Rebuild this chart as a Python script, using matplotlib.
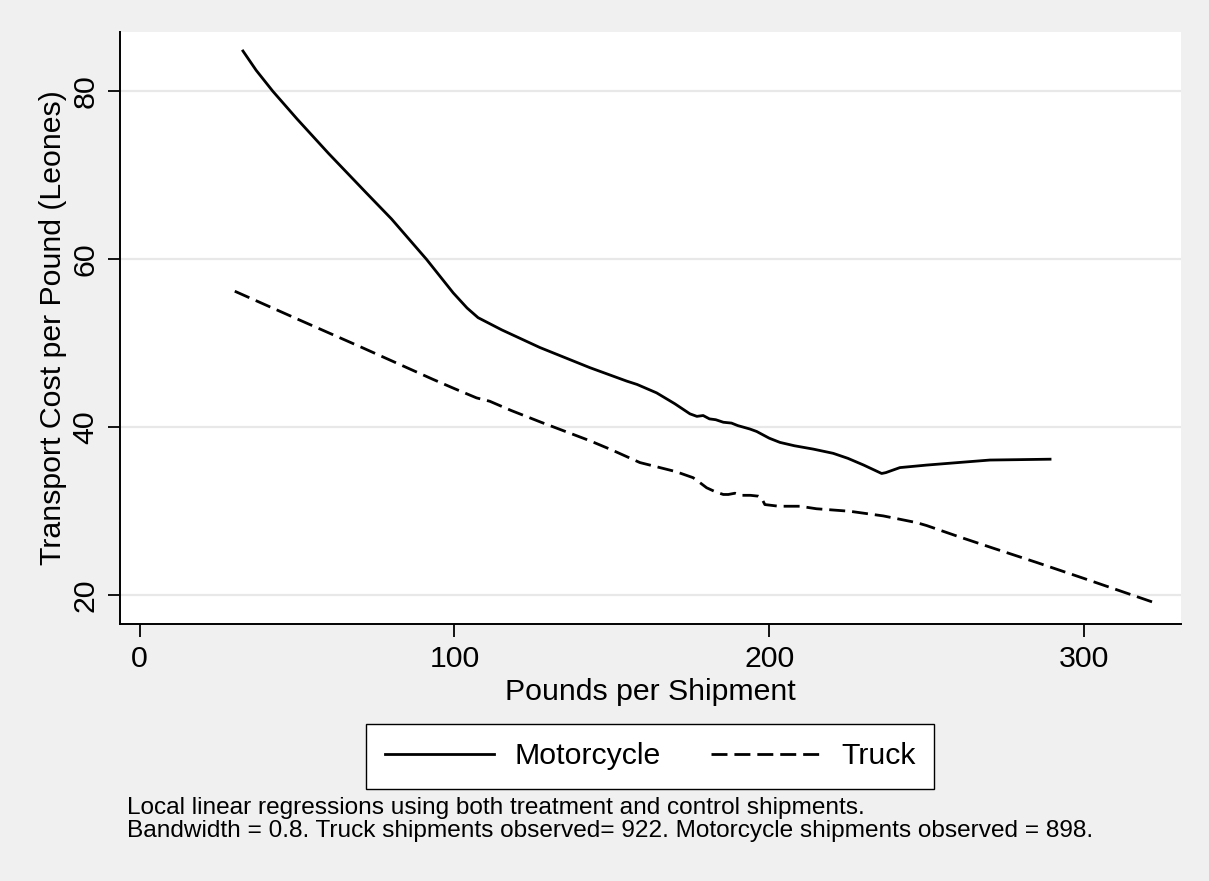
import matplotlib
matplotlib.use("Agg")
import matplotlib.pyplot as plt

plt.rcParams['font.family'] = ['Liberation Sans', 'DejaVu Sans']
plt.rcParams['lines.scale_dashes'] = False

# ---- data ----
moto_x = [32.8, 37.0, 42.3, 50.0, 60.0, 72.0, 80.0, 91.1, 99.6, 104.0, 107.5, 115.0,
          127.1, 143.0, 154.7, 158.0, 164.2, 170.0, 174.8, 177.0, 179.0, 181.0,
          183.0, 185.4, 188.0, 190.0, 193.8, 196.0, 200.0, 203.4, 208.0, 214.0,
          220.3, 225.0, 230.0, 235.7, 237.0, 241.5, 250.0, 260.0, 270.1, 280.0, 289.2]
moto_y = [84.8, 82.5, 80.0, 76.7, 72.6, 67.9, 64.8, 60.0, 56.0, 54.2, 53.05, 51.6,
          49.5, 47.1, 45.5, 45.1, 44.1, 42.8, 41.6, 41.3, 41.4, 41.0,
          40.9, 40.6, 40.5, 40.2, 39.8, 39.5, 38.7, 38.2, 37.8, 37.4,
          36.9, 36.3, 35.5, 34.5, 34.6, 35.2, 35.5, 35.8, 36.1, 36.15, 36.2]

truck_x = [30.2, 50.0, 70.0, 93.2, 100.0, 107.0, 111.2, 118.0, 127.5, 143.0,
           150.0, 158.9, 164.2, 169.5, 172.0, 175.8, 178.0, 180.1, 183.0, 185.4,
           187.0, 189.1, 191.0, 194.0, 196.5, 197.5, 198.6, 203.0, 209.7, 215.0,
           225.6, 236.2, 246.8, 250.0, 260.0, 271.2, 285.0, 300.0, 322.5]
truck_y = [56.2, 52.9, 49.6, 45.7, 44.6, 43.5, 43.1, 42.0, 40.6, 38.4,
           37.3, 35.8, 35.3, 34.8, 34.5, 34.0, 33.4, 32.8, 32.3, 32.0,
           32.0, 32.15, 31.9, 31.9, 31.8, 31.6, 30.8, 30.6, 30.6, 30.3,
           30.0, 29.45, 28.65, 28.3, 27.0, 25.6, 23.9, 22.0, 19.1]

series_labels = ["Motorcycle", "Truck"]
x_ticks = [0, 100, 200, 300]
y_ticks = [20, 40, 60, 80]
x_label = "Pounds per Shipment"
y_label = "Transport Cost per Pound (Leones)"
note_text = ("Local linear regressions using both treatment and control shipments.\n"
             "Bandwidth = 0.8. Truck shipments observed= 922. Motorcycle shipments observed = 898.")

# ---- figure ----
fig = plt.figure(figsize=(12.09, 8.81), dpi=100, facecolor='#f0f0f0')
ax = fig.add_axes([120/1209, 1 - 624/881, 1061/1209, 592/881])
ax.set_facecolor('white')

fs = 21.8
lw = 2.0
ax.plot(moto_x, moto_y, color='black', lw=lw, solid_joinstyle='round',
        label=series_labels[0])
ax.plot(truck_x, truck_y, color='black', lw=lw, linestyle=(0, (11.5, 5.0)),
        label=series_labels[1])

ax.set_xlim(-6.26, 330.8)
ax.set_ylim(16.58, 87.06)
ax.set_xticks(x_ticks)
ax.set_yticks(y_ticks)
ax.grid(axis='y', color='#e8e8e8', lw=1.6)
ax.set_axisbelow(True)

for s in ['top', 'right']:
    ax.spines[s].set_visible(False)
for s in ['left', 'bottom']:
    ax.spines[s].set_linewidth(1.4)
    ax.spines[s].set_color('black')

ax.tick_params(axis='both', length=9, width=1.3, color='black',
               labelsize=fs, direction='out')
ax.tick_params(axis='x', pad=6)
ax.tick_params(axis='y', pad=6)
for lab in ax.get_yticklabels():
    lab.set_rotation(90)
    lab.set_va('center')

ax.set_xlabel(x_label, fontsize=fs, labelpad=4)
ax.set_ylabel(y_label, fontsize=fs, labelpad=3)

leg = fig.legend(loc='center', bbox_to_anchor=(650/1209, 1 - 756.5/881),
                 ncol=2, fontsize=fs, frameon=True, fancybox=False,
                 edgecolor='black', framealpha=1, facecolor='white',
                 handlelength=3.6, handletextpad=0.7, columnspacing=1.65,
                 borderpad=0.62, borderaxespad=0)
leg.get_frame().set_linewidth(1.0)

fig.text(127/1209, 1 - 797/881, note_text, fontsize=17.6, ha='left', va='top',
         linespacing=1.05)

fig.savefig('out.png', dpi=100, facecolor=fig.get_facecolor())
